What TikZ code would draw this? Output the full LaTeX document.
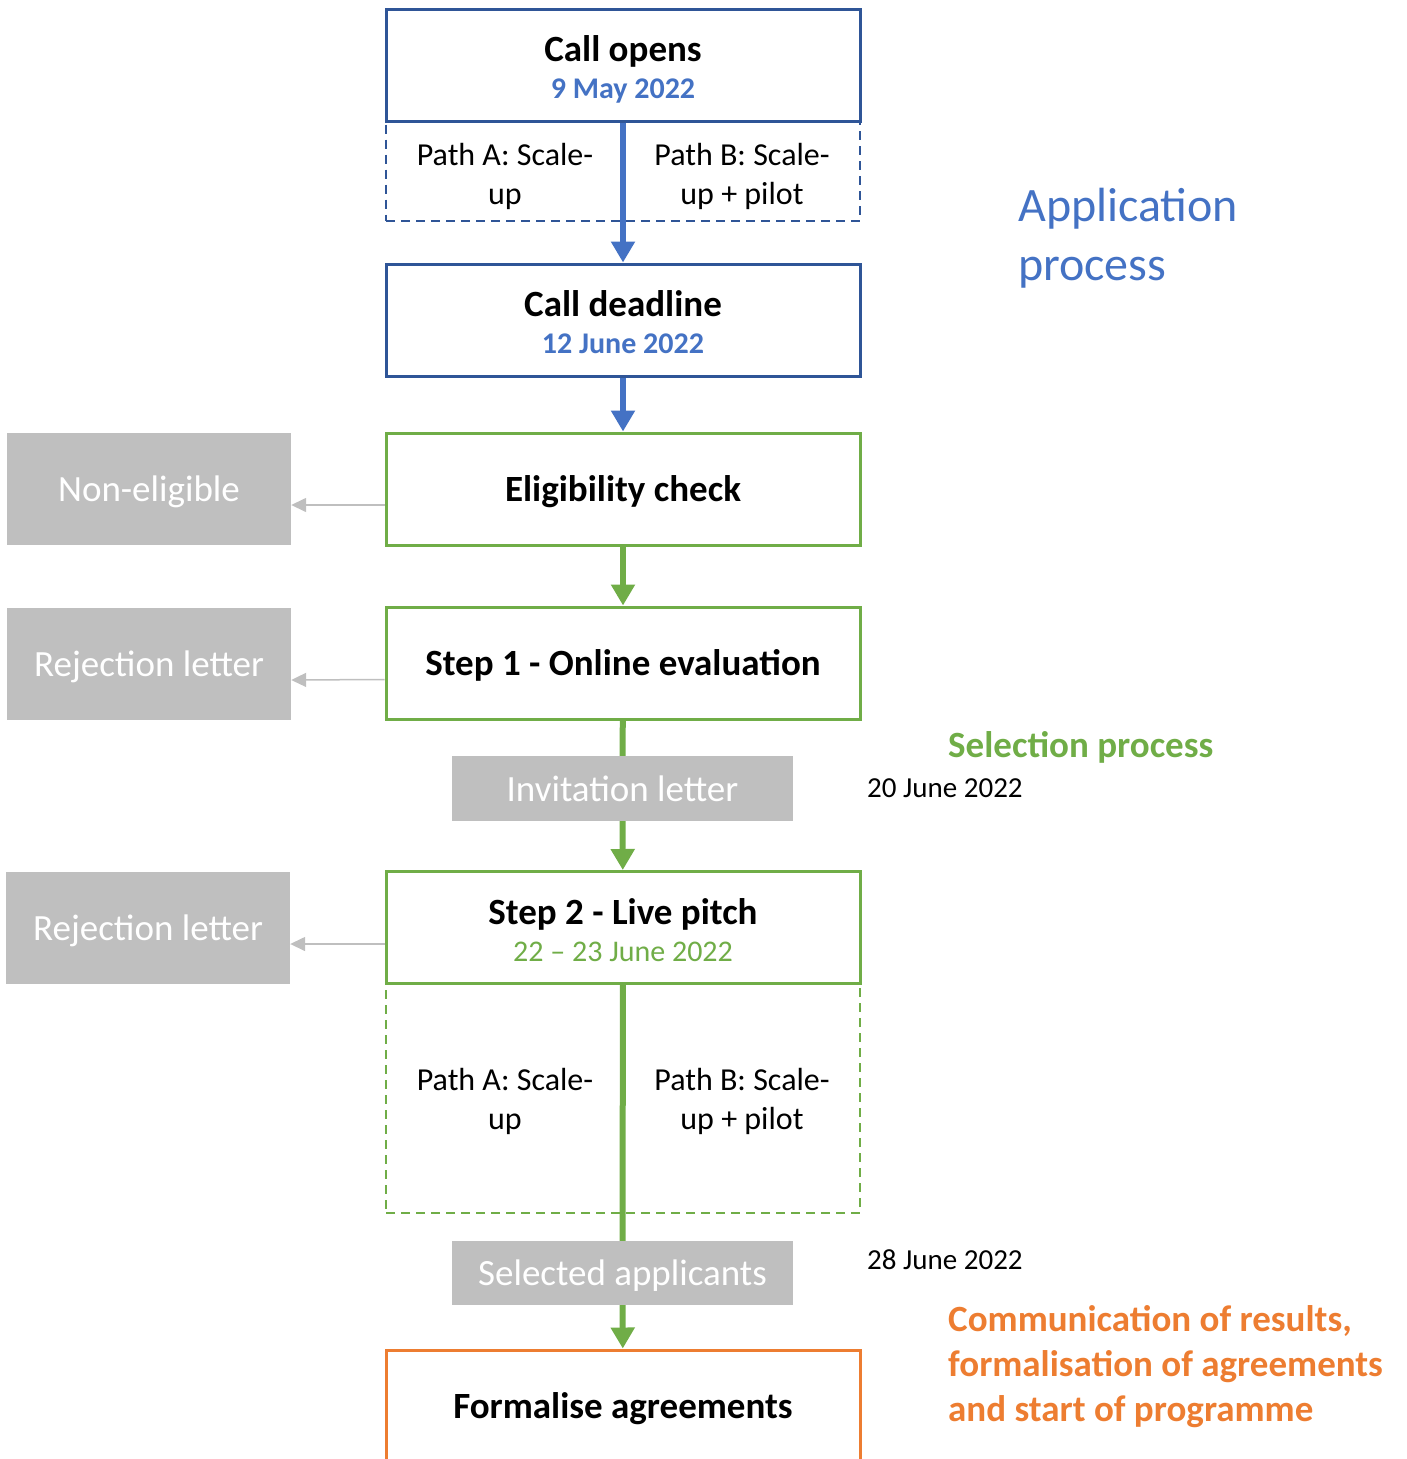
\documentclass[tikz,border=0pt]{standalone}
\usepackage{fontspec}
\setmainfont{Carlito}
\usetikzlibrary{arrows.meta}
\definecolor{bluedark}{HTML}{2F5597}
\definecolor{blueacc}{HTML}{4472C4}
\definecolor{greenacc}{HTML}{70AD47}
\definecolor{orangeacc}{HTML}{ED7D31}
\definecolor{greybox}{HTML}{BFBFBF}

\begin{document}
\begin{tikzpicture}[x=1pt,y=-1pt,
  stepbox/.style={draw=#1,line width=3pt,minimum width=474pt,minimum height=112pt,
    inner sep=0pt,fill=white,text height=30pt,text depth=5pt,font=\bfseries\fontsize{37}{40}\selectfont},
  titletxt/.style={anchor=base,inner sep=0pt,font=\bfseries\fontsize{37}{40}\selectfont},
  datetxt/.style={anchor=base,inner sep=0pt,font=\fontsize{30}{36}\selectfont},
  pathbox/.style={draw=#1,line width=2pt,dash pattern=on 9pt off 6pt,minimum width=474pt,inner sep=0pt},
  pathtext/.style={align=center,inner sep=0pt,font=\fontsize{32}{39}\selectfont},
  greybx/.style={fill=greybox,text=white,inner sep=0pt,text height=30pt,text depth=5pt,
    font=\fontsize{37}{40}\selectfont},
  flow/.style={line width=6pt,draw=#1,-{Triangle[width=23pt,length=21pt]}},
  flowline/.style={line width=6pt,draw=#1},
  reject/.style={line width=1.5pt,draw=greybox,-{Triangle[width=14pt,length=15pt]}},
  sidetext/.style={anchor=west,align=left,inner sep=0pt}]
  \clip (0,0) rectangle (1407,1459);

  % application process
  \node[stepbox=bluedark] (opens) at (623,65) {};
  \node[titletxt] (openstitle) at ([yshift=4pt]opens.center) {Call opens};
  \node[datetxt,font=\bfseries\fontsize{30}{36}\selectfont,text=blueacc] (opensdate) at ([yshift=-33pt]opens.center) {9 May 2022};
  \node[pathbox=bluedark,minimum height=99pt] (pathsa) at (623,171) {};
  \node[pathtext] (pa) at (505,176) {Path A: Scale-\\up};
  \node[pathtext] (pb) at (742,176) {Path B: Scale-\\up + pilot};
  \node[stepbox=bluedark] (deadline) at (623,320) {};
  \node[titletxt] (deadlinetitle) at ([yshift=4pt]deadline.center) {Call deadline};
  \node[datetxt,font=\bfseries\fontsize{30}{36}\selectfont,text=blueacc] (deadlinedate) at ([yshift=-33pt]deadline.center) {12 June 2022};

  % selection process
  \node[stepbox=greenacc] (elig) at (623,489) {Eligibility check};
  \node[stepbox=greenacc] (step1) at (623,663) {Step 1 - Online evaluation};
  \node[greybx,minimum width=341pt,minimum height=65pt] (invite) at (622.5,788.5) {Invitation letter};
  \node[stepbox=greenacc] (step2) at (623,927.5) {};
  \node[titletxt] (step2title) at ([yshift=3.5pt]step2.center) {Step 2 - Live pitch};
  \node[datetxt,text=greenacc] (step2date) at ([yshift=-33.5pt]step2.center) {22 -- 23 June 2022};
  \node[pathbox=greenacc,minimum height=230pt] (pathsb) at (623,1098) {};
  \node[pathtext] (pc) at (505,1101) {Path A: Scale-\\up};
  \node[pathtext] (pd) at (742,1101) {Path B: Scale-\\up + pilot};
  \node[greybx,minimum width=341pt,minimum height=64pt] (selected) at (622.5,1273) {Selected applicants};
  \node[stepbox=orangeacc] (formal) at (623,1406) {Formalise agreements};

  % rejections
  \node[greybx,minimum width=284pt,minimum height=112pt] (noneli) at (149,489) {Non-eligible};
  \node[greybx,minimum width=284pt,minimum height=112pt] (rejecta) at (149,663.5) {Rejection letter};
  \node[greybx,minimum width=284pt,minimum height=112pt] (rejectb) at (148,927.5) {Rejection letter};

  \draw[flow=blueacc] (opens) -- (deadline);
  \draw[flow=blueacc] (deadline) -- (elig);
  \draw[flow=greenacc] (elig) -- (step1);
  \draw[flowline=greenacc] (step1) -- (invite);
  \draw[flow=greenacc] (invite) -- (step2);
  \draw[flowline=greenacc] (step2) -- (selected);
  \draw[flow=greenacc] (selected) -- (formal);

  \draw[reject] ([yshift=-16pt]elig.west) -- ([yshift=-16pt]noneli.east);
  \draw[reject] ([yshift=-16.5pt]step1.west) -- ([yshift=-16.5pt]rejecta.east);
  \draw[reject] ([yshift=-16.5pt]step2.west) -- ([yshift=-16.5pt]rejectb.east);

  % labels on the right
  \node[sidetext,text=blueacc,font=\fontsize{48}{59}\selectfont] (apptitle) at (1018,238.5) {Application\\process};
  \node[sidetext,text=greenacc,font=\bfseries\fontsize{37}{45}\selectfont] (seltitle) at (948,747) {Selection process};
  \node[sidetext,font=\fontsize{29}{34}\selectfont] (datea) at (867,788) {20 June 2022};
  \node[sidetext,font=\fontsize{29}{34}\selectfont] (dateb) at (867,1260) {28 June 2022};
  \node[sidetext,text=orangeacc,font=\bfseries\fontsize{37}{45}\selectfont] (comtitle) at (948,1367)
    {Communication of results,\\formalisation of agreements\\and start of programme};
\end{tikzpicture}
\end{document}
